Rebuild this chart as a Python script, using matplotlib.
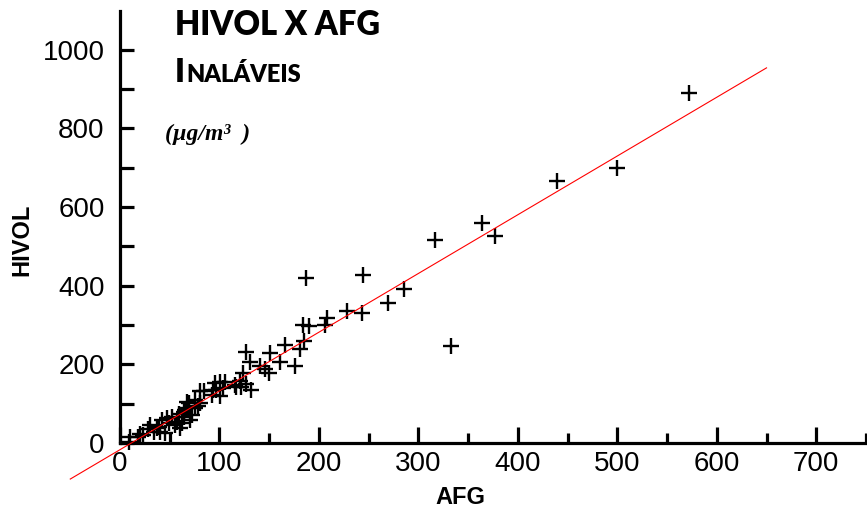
import matplotlib

matplotlib.use("Agg")
import matplotlib.pyplot as plt
import numpy as np

# AFG vs HIVOL, inhalable particulates (ug/m3)
afg = [572, 500, 439, 364, 377, 317, 333, 286, 269, 244, 243, 228, 187, 208,
       206, 190, 184, 185, 166, 181, 176, 161, 151, 127, 131, 141, 146, 150,
       124, 121, 127, 132, 117, 122, 116, 101, 106, 97, 104, 94, 84, 80, 92,
       101, 96, 80, 75, 75, 69, 67, 65, 64, 72, 70, 64, 59, 57, 60, 52, 47,
       49, 45, 42, 39, 37, 40, 30, 28, 34, 23, 20, 18, 10, 9, 55, 62, 68, 78]
hivol = [890, 700, 667, 560, 527, 517, 247, 391, 355, 428, 330, 336, 419, 318,
         300, 298, 300, 260, 250, 240, 195, 207, 228, 232, 205, 196, 188, 177,
         177, 158, 150, 135, 143, 143, 148, 156, 154, 135, 140, 135, 131, 133, 122,
         120, 152, 101, 109, 88, 101, 105, 84, 80, 71, 58, 67, 75, 54, 38, 67, 63,
         50, 25, 58, 41, 37, 29, 46, 35, 29, 20, 24, 16, 16, 3, 45, 50, 88, 95]

# fitted line endpoints
fit_x = np.array([-50, 650])
fit_slope, fit_icpt = 1.494, -17.0

W, H = 867, 512
fig = plt.figure(figsize=(W / 100, H / 100), dpi=100)
ax = fig.add_axes([120 / W, 1 - 443 / H, 746 / W, 432.5 / H])

ax.plot(afg, hivol, ls="none", marker="+", ms=12, mew=1.7, color="black",
        clip_on=False, zorder=3)
ax.plot(fit_x, fit_slope * fit_x + fit_icpt, color="red", lw=0.8,
        clip_on=False, zorder=4)

ax.set_xlim(0, 750)
ax.set_ylim(0, 1100)
for s in ("top", "right"):
    ax.spines[s].set_visible(False)
for s in ("left", "bottom"):
    ax.spines[s].set_linewidth(2.3)

ax.set_xticks(np.arange(0, 701, 100))
ax.set_xticks(np.arange(50, 751, 100), minor=True)
ax.set_yticks(np.arange(0, 1001, 200))
ax.set_yticks(np.arange(100, 1100, 200), minor=True)
ax.tick_params(axis="both", which="both", direction="in", width=2.3,
               labelsize=20)
ax.tick_params(axis="x", which="major", length=11.5, pad=6)
ax.tick_params(axis="x", which="minor", length=7)
ax.tick_params(axis="y", which="both", length=10, pad=11)
for lab in ax.get_xticklabels() + ax.get_yticklabels():
    lab.set_family("Liberation Sans")

ax.set_xlabel("AFG", fontsize=17, fontweight="bold", family="Liberation Sans")
ax.set_ylabel("HIVOL", fontsize=17, fontweight="bold", family="Liberation Sans")
ax.xaxis.set_label_coords(0.456, -0.125)
ax.xaxis.label.set_va("center")
ax.yaxis.set_label_coords(-0.131, 0.469)
ax.yaxis.label.set_va("center")

# titles
fig.text(175 / W, 1 - 35 / H, "HIVOL X AFG", fontsize=23.5, fontweight="heavy",
         family="Lato", va="baseline")
t1 = fig.text(175 / W, 1 - 82 / H, "I", fontsize=23, fontweight="heavy",
              family="Lato", va="baseline")
fig.canvas.draw()
bb = t1.get_window_extent()
fig.text(bb.x1 / W + 1 / W, 1 - 82 / H, "NALÁVEIS", fontsize=17,
         fontweight="heavy", family="Lato", va="baseline")
fig.text(165 / W, 1 - 140 / H, "(µg/m³  )", fontsize=17, fontweight="bold",
         style="italic", family="Liberation Serif", va="baseline")

fig.savefig("out.png", dpi=100)
